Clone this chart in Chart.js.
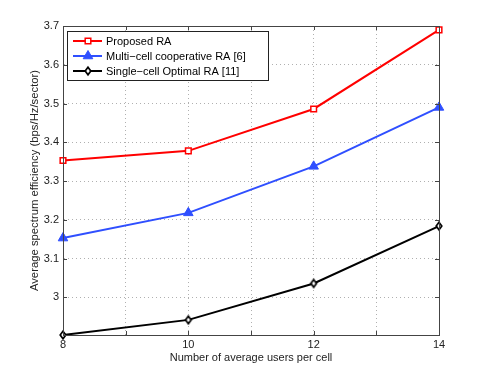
<!DOCTYPE html>
<html>
<head>
<meta charset="utf-8">
<script src="https://cdn.jsdelivr.net/npm/chart.js@4"></script>
<style>
html,body{margin:0;padding:0;background:#fff;}
#wrap{width:485px;height:380px;position:relative;}
</style>
</head>
<body>
<div id="wrap"><canvas id="c" width="485" height="380"></canvas></div>
<script>
const users = [8, 10, 12, 14];
const proposedRA = [3.353, 3.378, 3.486, 3.690];
const multiCellRA = [3.153, 3.218, 3.338, 3.490];
const singleCellRA = [2.903, 2.942, 3.036, 3.184];
const seriesLabels = ['Proposed RA', 'Multi\u2212cell cooperative RA [6]', 'Single\u2212cell Optimal RA [11]'];
const xTickLabels = [8, 10, 12, 14];
const yTickValues = [3, 3.1, 3.2, 3.3, 3.4, 3.5, 3.6, 3.7];
const yTickLabels = ['3', '3.1', '3.2', '3.3', '3.4', '3.5', '3.6', '3.7'];
const xAxisTitle = 'Number of average users per cell';
const yAxisTitle = 'Average spectrum efficiency (bps/Hz/sector)';

const FONT = 'Liberation Sans, Arial, Helvetica, sans-serif';
const colors = ['#ff0000', '#2f4fff', '#000000'];

function toPts(vals){ return users.map((x,i)=>({x:x, y:vals[i]})); }

const frame = {
  id: 'frame',
  afterDatasetsDraw(chart){
    const {ctx, chartArea:a, scales} = chart;
    ctx.save();
    ctx.strokeStyle = '#444';
    ctx.lineWidth = 1;
    ctx.strokeRect(Math.round(a.left)+0.5, Math.round(a.top)+0.5, Math.round(a.right-a.left), Math.round(a.bottom-a.top));
    ctx.beginPath();
    for (let v=8; v<=14; v++){
      const px = Math.round(scales.x.getPixelForValue(v))+0.5;
      ctx.moveTo(px, a.bottom); ctx.lineTo(px, a.bottom-4);
      ctx.moveTo(px, a.top); ctx.lineTo(px, a.top+4);
    }
    yTickValues.forEach(v=>{
      const py = Math.round(scales.y.getPixelForValue(v))+0.5;
      ctx.moveTo(a.left, py); ctx.lineTo(a.left+4, py);
      ctx.moveTo(a.right, py); ctx.lineTo(a.right-4, py);
    });
    ctx.stroke();
    ctx.restore();
  }
};

const boxLegend = {
  id: 'boxLegend',
  afterDraw(chart){
    const {ctx} = chart;
    const x0 = 67, y0 = 31, w = 201, h = 49;
    ctx.save();
    ctx.fillStyle = '#fff';
    ctx.fillRect(x0, y0, w, h);
    ctx.strokeStyle = '#222';
    ctx.lineWidth = 1;
    ctx.strokeRect(x0+0.5, y0+0.5, w, h);
    ctx.font = '11px ' + FONT;
    ctx.textBaseline = 'middle';
    chart.data.datasets.forEach((ds, i)=>{
      const cy = 41 + i*15;
      ctx.strokeStyle = ds.borderColor;
      ctx.lineWidth = 2;
      ctx.beginPath(); ctx.moveTo(73, cy); ctx.lineTo(102, cy); ctx.stroke();
      drawMarker(ctx, ds, 88, cy);
      ctx.fillStyle = '#000';
      ctx.fillText(ds.label, 106, cy+0.5);
    });
    ctx.restore();
  }
};

function drawMarker(ctx, ds, x, y){
  ctx.save();
  ctx.lineWidth = ds.pointBorderWidth;
  ctx.strokeStyle = ds.pointBorderColor;
  ctx.fillStyle = ds.pointBackgroundColor;
  const r = ds.pointRadius;
  ctx.beginPath();
  if (ds.pointStyle === 'rect'){
    ctx.rect(x-r*0.7, y-r*0.7, r*1.4, r*1.4);
  } else if (ds.pointStyle === 'triangle'){
    ctx.moveTo(x, y-r); ctx.lineTo(x+r*0.87, y+r*0.5); ctx.lineTo(x-r*0.87, y+r*0.5); ctx.closePath();
  } else {
    ctx.moveTo(x, y-3.8); ctx.lineTo(x+2.8, y); ctx.lineTo(x, y+3.8); ctx.lineTo(x-2.8, y); ctx.closePath();
  }
  ctx.fill(); ctx.stroke();
  ctx.restore();
}

const diamondCanvas = (()=>{
  const c = document.createElement('canvas'); c.width = 10; c.height = 12;
  const g = c.getContext('2d');
  g.lineWidth = 1.7; g.strokeStyle = '#000'; g.fillStyle = '#fff';
  g.beginPath(); g.moveTo(5,2.2); g.lineTo(7.8,6); g.lineTo(5,9.8); g.lineTo(2.2,6); g.closePath();
  g.fill(); g.stroke();
  return c;
})();

new Chart(document.getElementById('c'), {
  type: 'line',
  data: {
    datasets: [
      {label: seriesLabels[0], data: toPts(proposedRA), borderColor: colors[0], borderWidth: 2,
       pointStyle: 'rect', pointRadius: 4, pointBorderColor: colors[0], pointBackgroundColor: '#fff', pointBorderWidth: 1.5, clip: false, tension: 0},
      {label: seriesLabels[1], data: toPts(multiCellRA), borderColor: colors[1], borderWidth: 2,
       pointStyle: 'triangle', pointRadius: 5.5, pointBorderColor: colors[1], pointBackgroundColor: colors[1], pointBorderWidth: 1, clip: false, tension: 0},
      {label: seriesLabels[2], data: toPts(singleCellRA), borderColor: colors[2], borderWidth: 2,
       pointStyle: diamondCanvas, pointRadius: 5, pointBorderColor: colors[2], pointBackgroundColor: '#fff', pointBorderWidth: 1.7, clip: false, tension: 0}
    ]
  },
  options: {
    responsive: false,
    animation: false,
    events: [],
    layout: {padding: {top: 26, right: 46, left: 0, bottom: 0}},
    plugins: {legend: {display: false}, tooltip: {enabled: false}},
    scales: {
      x: {
        type: 'linear', min: 8, max: 14,
        afterFit(s){ s.height = 45; },
        afterBuildTicks(s){ s.ticks = [8,9,10,11,12,13,14].map(v=>({value:v})); },
        ticks: {
          autoSkip: false, maxRotation: 0, padding: 3, color: '#222',
          font: {family: FONT, size: 11},
          callback: v => xTickLabels.includes(v) ? String(v) : ''
        },
        grid: {color: '#b0b0b0', lineWidth: 1, drawTicks: false},
        border: {display: true, color: '#444', dash: [1,3]},
        title: {display: true, text: xAxisTitle, color: '#222', font: {family: FONT, size: 11}, padding: {top: 0, bottom: 15}}
      },
      y: {
        type: 'linear', min: 2.903, max: 3.7,
        afterFit(s){ s.width = 63; },
        afterBuildTicks(s){ s.ticks = yTickValues.map(v=>({value:v})); },
        ticks: {
          autoSkip: false, padding: 4, color: '#222',
          font: {family: FONT, size: 11},
          callback: (v, i) => yTickLabels[i]
        },
        grid: {color: '#b0b0b0', lineWidth: 1, drawTicks: false},
        border: {display: true, color: '#444', dash: [1,3]},
        title: {display: true, text: yAxisTitle, color: '#222', font: {family: FONT, size: 11.3}, padding: {top: 28, bottom: 0}}
      }
    }
  },
  plugins: [frame, boxLegend]
});
</script>
</body>
</html>
